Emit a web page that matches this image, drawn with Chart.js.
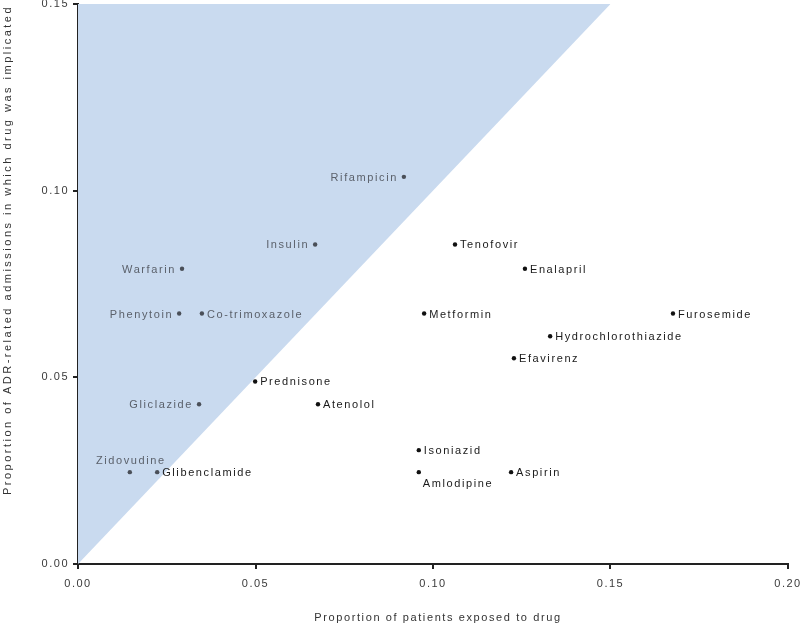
<!DOCTYPE html>
<html><head><meta charset="utf-8">
<script src="https://cdn.jsdelivr.net/npm/chart.js@4"></script>
<style>html,body{margin:0;padding:0;background:#fff}#wrap{width:800px;height:625px}</style>
</head><body><div id="wrap"><canvas id="c" width="800" height="625"></canvas></div>
<script>
const drugs = ["Rifampicin","Insulin","Warfarin","Phenytoin","Co-trimoxazole","Gliclazide","Zidovudine","Glibenclamide","Prednisone","Atenolol","Tenofovir","Enalapril","Metformin","Furosemide","Hydrochlorothiazide","Efavirenz","Isoniazid","Amlodipine","Aspirin"];
const exposed = [0.0918,0.0668,0.0293,0.0285,0.0349,0.0341,0.0146,0.0223,0.0499,0.0676,0.1062,0.1259,0.0975,0.1676,0.1330,0.1228,0.0960,0.0960,0.1220];
const implicated = [0.1037,0.0856,0.0791,0.0671,0.0671,0.0428,0.0246,0.0246,0.0489,0.0428,0.0856,0.0791,0.0671,0.0671,0.0610,0.0551,0.0305,0.0246,0.0246];
const labelSide = ["left","left","left","left","right","left","above","right","right","right","right","right","right","right","right","right","right","below","right"];
const diagonal = [0, 0.15];
const xTicks = [0, 0.05, 0.10, 0.15, 0.20];
const yTicks = [0, 0.05, 0.10, 0.15];
const xTitle = 'Proportion of patients exposed to drug';
const yTitle = 'Proportion of ADR-related admissions in which drug was implicated';

const FONT = '"Liberation Sans", Arial, sans-serif';
const inside = drugs.map((d,i)=> implicated[i] > exposed[i]);
const pts = drugs.map((d,i)=>({x:exposed[i], y:implicated[i]}));

const labelPlugin = {
  id:'labels',
  afterDatasetsDraw(chart){
    const ctx = chart.ctx;
    const meta = chart.getDatasetMeta(1);
    const xs = chart.scales.x, ys = chart.scales.y;
    ctx.save();
    ctx.font = '11px ' + FONT;
    ctx.letterSpacing = '1.6px';
    meta.data.forEach((el,i)=>{
      const {x,y} = el.getProps(['x','y'], true);
      const w = ctx.measureText(drugs[i]).width;
      const s = labelSide[i];
      let tx, ty, align;
      if (s==='right'){ align='left'; tx=x+5; ty=y+1; }
      else if (s==='left'){ align='right'; tx=x-6; ty=y+1; }
      else if (s==='above'){ align='center'; tx=x+1; ty=y-11; }
      else { align='left'; tx=x+4; ty=y+12; }
      const mid = align==='left' ? tx + w/2 : align==='right' ? tx - w/2 : tx;
      const inTri = ys.getValueForPixel(ty) > xs.getValueForPixel(mid);
      ctx.fillStyle = inTri ? '#5b616b' : '#1a1a1a';
      ctx.textAlign = align; ctx.textBaseline = 'middle';
      ctx.fillText(drugs[i], tx, ty);
    });
    // axis titles
    ctx.fillStyle = '#333';
    ctx.font = '11px ' + FONT;
    ctx.letterSpacing = '1.6px';
    ctx.textAlign = 'center'; ctx.textBaseline = 'middle';
    ctx.fillText(xTitle, 438, 618);
    ctx.save();
    ctx.translate(8, 250);
    ctx.rotate(-Math.PI/2);
    ctx.letterSpacing = '2.5px';
    ctx.fillText(yTitle, 0, 0);
    ctx.restore();
    ctx.restore();
  }
};
const spacing = { id:'spacing', beforeDraw(chart){ chart.ctx.letterSpacing='1.5px'; } };

new Chart(document.getElementById('c'), {
  data:{ datasets:[
    { type:'line', data: diagonal.map(v=>({x:v,y:v})), fill:'end', backgroundColor:'#c9daef', borderWidth:0, pointRadius:0, order:2 },
    { type:'scatter', data: pts, pointRadius:2.2, pointBackgroundColor: inside.map(v=>v?'#4a4f58':'#111'), pointBorderWidth:0, order:1 }
  ]},
  options:{
    responsive:false, animation:false,
    layout:{ padding:{ top:3, right:12, left:0, bottom:0 } },
    plugins:{ legend:{display:false}, tooltip:{enabled:false} },
    scales:{
      x:{ type:'linear', min:0, max:0.2,
        afterBuildTicks(s){ s.ticks = xTicks.map(v=>({value:v})); },
        afterFit(s){ s.height = 61; s.paddingLeft = 0; s.paddingRight = 0; },
        ticks:{ callback:v=>v.toFixed(2), color:'#3a3a3a', font:{family:FONT, size:11}, padding:8, maxRotation:0 },
        grid:{ drawOnChartArea:false, drawTicks:true, tickLength:5, color:'#222', lineWidth:2 },
        border:{ color:'#222', width:2 }
      },
      y:{ type:'linear', min:0, max:0.15,
        afterBuildTicks(s){ s.ticks = yTicks.map(v=>({value:v})); },
        afterFit(s){ s.width = 78; s.paddingTop = 0; s.paddingBottom = 0; },
        ticks:{ callback:v=>v.toFixed(2), color:'#3a3a3a', font:{family:FONT, size:11}, padding:4 },
        grid:{ drawOnChartArea:false, drawTicks:true, tickLength:5, color:'#222', lineWidth:2 },
        border:{ color:'#222', width:2 }
      }
    }
  },
  plugins:[spacing, labelPlugin]
});
</script></body></html>
